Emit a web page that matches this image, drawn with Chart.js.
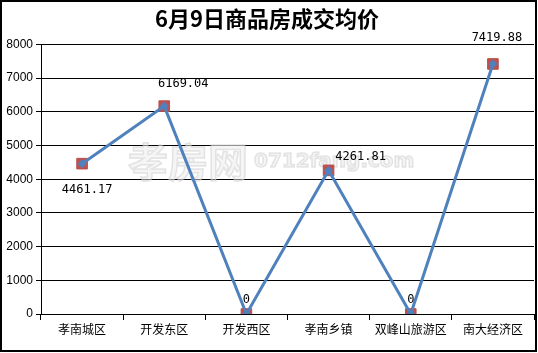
<!DOCTYPE html>
<html>
<head>
<meta charset="utf-8">
<script src="https://cdn.jsdelivr.net/npm/chart.js@4/dist/chart.umd.min.js"></script>
<style>
  html, body { margin: 0; padding: 0; background: #fff; }
  #wrap { width: 538px; height: 353px; position: relative; }
</style>
</head>
<body>
<div id="wrap"><canvas id="myChart" width="538" height="353"></canvas></div>
<script>
const categories = ['孝南城区', '开发东区', '开发西区', '孝南乡镇', '双峰山旅游区', '南大经济区'];
const prices = [4461.17, 6169.04, 0, 4261.81, 0, 7419.88];
const yTicks = [0, 1000, 2000, 3000, 4000, 5000, 6000, 7000, 8000];

// where each value label sits relative to its point (dx, dy)
const labelOffsets = [[5, 26], [19, -22], [0, -14], [32, -14], [0, -14], [4, -26]];

const valueLabels = {
  id: 'valueLabels',
  afterDatasetsDraw(chart) {
    const ctx = chart.ctx;
    const meta = chart.getDatasetMeta(1);
    ctx.save();
    ctx.font = '12px "DejaVu Sans Mono"';
    ctx.fillStyle = '#000';
    ctx.textAlign = 'center';
    ctx.textBaseline = 'middle';
    meta.data.forEach((pt, i) => {
      const v = prices[i];
      const txt = v === 0 ? '0' : v.toFixed(2);
      ctx.fillText(txt, pt.x + labelOffsets[i][0], pt.y + labelOffsets[i][1]);
    });
    ctx.restore();
  }
};

const watermark = {
  id: 'watermark',
  beforeDatasetsDraw(chart) {
    const ctx = chart.ctx;
    ctx.save();
    ctx.strokeStyle = 'rgba(200,200,200,0.45)';
    ctx.fillStyle = 'rgba(235,235,235,0.5)';
    ctx.lineWidth = 1.5;
    ctx.textBaseline = 'middle';
    ctx.font = 'bold 40px "Noto Sans CJK SC"';
    ctx.fillText('孝房网', 128, 162);
    ctx.strokeText('孝房网', 128, 162);
    ctx.font = 'bold 20px "DejaVu Sans"';
    ctx.fillText('0712fang.com', 254, 162);
    ctx.strokeText('0712fang.com', 254, 162);
    ctx.restore();
  }
};

const frame = {
  id: 'frame',
  afterDraw(chart) {
    const ctx = chart.ctx;
    ctx.save();
    ctx.strokeStyle = '#000';
    ctx.lineWidth = 2;
    ctx.strokeRect(1, 1, chart.width - 3, chart.height - 3);
    ctx.restore();
  }
};

const data = {
  labels: categories,
  datasets: [
    {
      label: 'marker',
      data: prices,
      showLine: false,
      pointStyle: 'rect',
      pointRadius: 7.5,
      backgroundColor: '#c0504d',
      borderColor: '#b8504d',
      borderWidth: 1,
      order: 2
    },
    {
      label: '均价',
      data: prices,
      borderColor: '#4f81bd',
      borderWidth: 3,
      pointStyle: 'rectRot',
      pointRadius: 4.5,
      backgroundColor: '#4f81bd',
      pointBorderWidth: 0,
      tension: 0,
      order: 1
    }
  ]
};

const config = {
  type: 'line',
  data: data,
  options: {
    responsive: false,
    animation: false,
    layout: { autoPadding: false, padding: { left: 0, right: 4, top: 0, bottom: 0 } },
    plugins: {
      legend: { display: false },
      tooltip: { enabled: false },
      title: {
        display: true,
        text: '6月9日商品房成交均价',
        color: '#000',
        font: { family: '"Noto Sans CJK SC"', size: 22, weight: 'bold' },
        padding: { top: 5, bottom: 13 }
      }
    },
    scales: {
      x: {
        offset: true,
        grid: { display: true, drawOnChartArea: false, drawTicks: true, tickLength: 6, color: '#000', offset: true },
        border: { color: '#000', width: 1 },
        ticks: { color: '#000', font: { family: '"Noto Sans CJK SC"', size: 12 }, maxRotation: 0, autoSkip: false, padding: 2 },
        afterFit: s => { s.height = 39; s.paddingLeft = 0; s.paddingRight = 0; }
      },
      y: {
        min: 0,
        max: 8000,
        afterBuildTicks: s => { s.ticks = yTicks.map(v => ({ value: v })); },
        grid: { color: '#000', lineWidth: 1, tickLength: 5 },
        border: { color: '#000', width: 1 },
        ticks: {
          color: '#000',
          font: { family: '"Liberation Sans"', size: 12 },
          padding: 3,
          callback: v => String(v)
        },
        afterFit: s => { s.width = 41; }
      }
    }
  },
  plugins: [watermark, valueLabels, frame]
};

const myChart = new Chart(document.getElementById('myChart'), config);
</script>
</body>
</html>
